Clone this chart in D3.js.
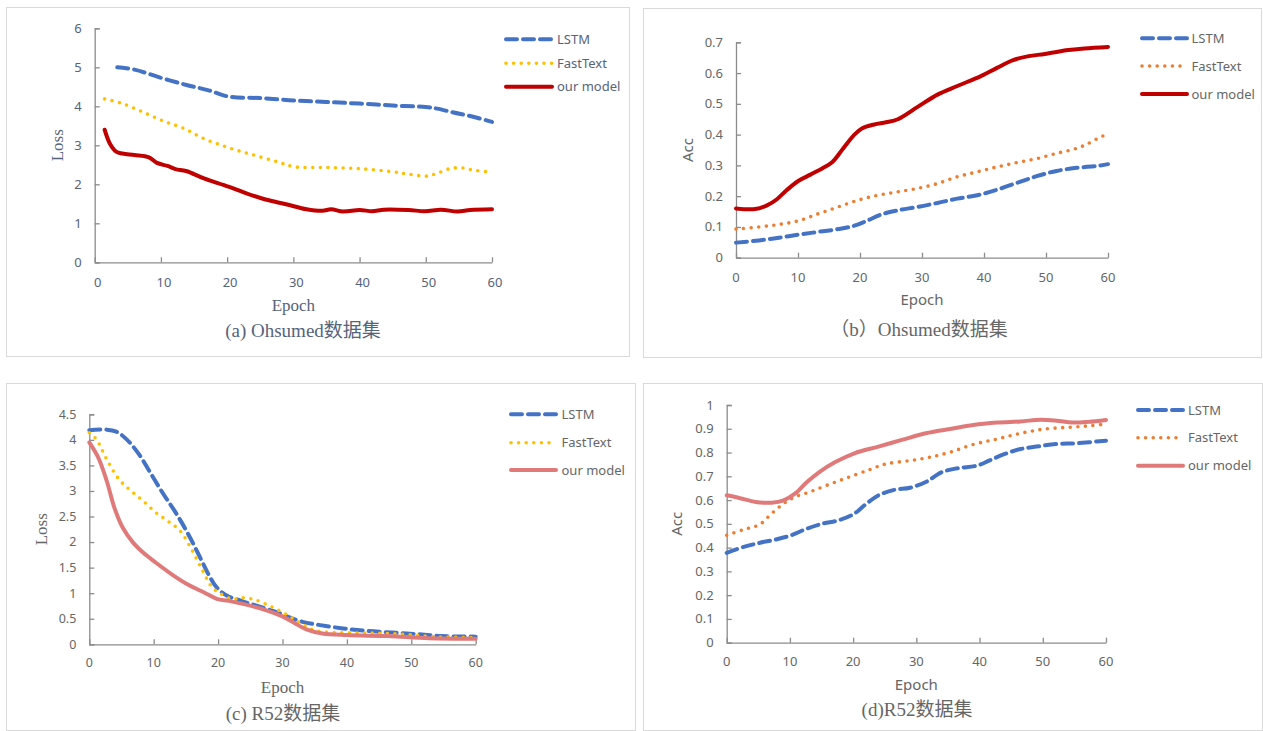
<!DOCTYPE html>
<html>
<head>
<meta charset="utf-8">
<script src="https://cdn.jsdelivr.net/npm/d3@7/dist/d3.min.js"></script>
<style>
  html, body { margin: 0; padding: 0; background: #fff; }
  svg { display: block; }
</style>
</head>
<body>
<svg id="chart" width="1263" height="731"></svg>
<script>
// ---- Data: training curves, [epoch, value] ----
const seriesNames = ["LSTM", "FastText", "our model"];

// (a) Ohsumed loss
const ohsLossLSTM = [[3.4,5.0],[6,4.94],[10,4.73],[14,4.54],[17.2,4.41],[20.2,4.25],[25.2,4.21],[30.1,4.15],[35,4.11],[40,4.07],[45,4.02],[50,3.98],[51.7,3.94],[54.2,3.84],[56.7,3.75],[60,3.6]];
const ohsLossFast = [[1.5,4.19],[4.2,4.07],[7.3,3.85],[10.4,3.62],[13.5,3.43],[16.5,3.17],[20.2,2.94],[24,2.75],[27.7,2.57],[30.1,2.45],[35,2.43],[40,2.40],[45,2.32],[47.4,2.26],[50.2,2.21],[51.7,2.28],[53.6,2.40],[55.4,2.42],[57.3,2.36],[60,2.31]];
const ohsLossOurs = [[1.5,3.40],[2.3,3.04],[3.3,2.83],[4.2,2.79],[6,2.75],[8.2,2.69],[9.4,2.55],[11,2.47],[12.2,2.39],[13.8,2.34],[16.5,2.15],[20.2,1.94],[22.7,1.78],[25.8,1.61],[28.9,1.49],[32,1.36],[34.4,1.32],[35.7,1.36],[37.5,1.30],[40,1.34],[41.9,1.31],[43.7,1.35],[47.4,1.34],[49.9,1.31],[52.3,1.35],[54.8,1.30],[56.7,1.34],[60,1.36]];

// (b) Ohsumed accuracy
const ohsAccLSTM = [[0,0.049],[3.7,0.056],[6.9,0.065],[10.1,0.075],[13.3,0.084],[16.5,0.093],[19.1,0.104],[21,0.119],[23.5,0.141],[26.1,0.154],[29.3,0.165],[32.5,0.178],[35.7,0.192],[38.9,0.203],[42.1,0.221],[45.3,0.243],[48.5,0.265],[51.7,0.282],[54.9,0.292],[58.1,0.298],[60,0.304]];
const ohsAccFast = [[0,0.093],[3.7,0.10],[6.9,0.108],[10.1,0.12],[13.3,0.143],[16.5,0.165],[19.7,0.187],[22.9,0.203],[26.1,0.214],[29.3,0.225],[32.5,0.241],[35.7,0.263],[38.9,0.279],[42.1,0.295],[45.3,0.309],[48.5,0.322],[51.7,0.339],[54.9,0.355],[56.8,0.371],[59.1,0.395],[60,0.40]];
const ohsAccOurs = [[0,0.16],[3.1,0.158],[5,0.17],[6.6,0.19],[8.2,0.22],[10.1,0.25],[12,0.27],[13.9,0.29],[15.5,0.31],[17.1,0.35],[19.1,0.40],[20.3,0.42],[22.3,0.433],[24.2,0.44],[26.1,0.45],[29.3,0.49],[32.5,0.53],[35.7,0.558],[39.5,0.59],[42.1,0.617],[44.7,0.642],[47.2,0.655],[49.8,0.662],[53.6,0.675],[56.2,0.68],[60,0.685]];

// (c) R52 loss
const r52LossLSTM = [[0,4.19],[2.7,4.20],[4.2,4.16],[5.8,4.01],[7.7,3.72],[9.6,3.33],[11.5,2.94],[13.4,2.58],[15.3,2.17],[17.2,1.70],[18.5,1.37],[19.8,1.11],[21.4,0.95],[23.6,0.85],[26.1,0.75],[29.3,0.62],[31.2,0.52],[33.1,0.44],[35.6,0.38],[39.4,0.31],[43.2,0.26],[47,0.23],[50.8,0.20],[54.6,0.16],[60,0.15]];
const r52LossFast = [[0,4.14],[1.1,4.01],[2.7,3.62],[4.6,3.23],[6.5,3.00],[8.4,2.80],[10.3,2.58],[12.2,2.41],[14.1,2.22],[16,1.83],[17.6,1.44],[19.1,1.11],[20.4,0.99],[22.3,0.88],[23.6,0.91],[25.5,0.88],[28,0.75],[30.5,0.59],[33.1,0.39],[35,0.27],[38.1,0.23],[43.2,0.22],[48.3,0.20],[53.4,0.15],[60,0.13]];
const r52LossOurs = [[0,3.95],[1.4,3.65],[2.7,3.20],[3.9,2.67],[5.2,2.28],[6.8,1.99],[8.4,1.79],[10.3,1.60],[12.8,1.37],[15.3,1.17],[17.9,1.01],[19.8,0.89],[21.7,0.85],[24.2,0.78],[27.4,0.67],[29.9,0.55],[31.8,0.42],[33.7,0.29],[36.2,0.21],[40,0.18],[46.4,0.16],[52.7,0.12],[60,0.11]];

// (d) R52 accuracy
const r52AccLSTM = [[0,0.378],[2.7,0.403],[5.2,0.42],[7.7,0.434],[10.2,0.452],[12.7,0.48],[15.2,0.501],[17.7,0.515],[20.2,0.543],[22.1,0.585],[24,0.62],[26.5,0.643],[29,0.652],[31.5,0.676],[34,0.717],[36.5,0.734],[39.6,0.745],[41.5,0.766],[44,0.794],[46.5,0.815],[49,0.825],[52.2,0.836],[55.3,0.839],[60,0.85]];
const r52AccFast = [[0,0.452],[2.7,0.476],[5.2,0.497],[7.1,0.543],[9,0.585],[10.8,0.613],[13.3,0.636],[16.5,0.669],[19.6,0.699],[22.7,0.729],[25.2,0.752],[29,0.766],[32.1,0.78],[35.3,0.801],[39,0.834],[42.8,0.857],[46.5,0.881],[50.3,0.899],[54,0.906],[57.2,0.912],[60,0.92]];
const r52AccOurs = [[0,0.62],[2.1,0.608],[4.6,0.592],[7.1,0.589],[9,0.599],[10.8,0.627],[12.7,0.676],[14.6,0.717],[17.1,0.759],[20.2,0.797],[24,0.825],[27.7,0.853],[31.5,0.881],[35.3,0.899],[39,0.916],[42.8,0.926],[46.5,0.931],[49.7,0.938],[52.2,0.934],[54.7,0.926],[57.2,0.929],[60,0.937]];

// Axis ticks
const epochTicks = [0, 10, 20, 30, 40, 50, 60];
const ohsLossTicks = [0, 1, 2, 3, 4, 5, 6];
const ohsAccTicks = [0, 0.1, 0.2, 0.3, 0.4, 0.5, 0.6, 0.7];
const r52LossTicks = [0, 0.5, 1, 1.5, 2, 2.5, 3, 3.5, 4, 4.5];
const r52AccTicks = [0, 0.1, 0.2, 0.3, 0.4, 0.5, 0.6, 0.7, 0.8, 0.9, 1];

// Captions and axis titles
const captions = ["(a) Ohsumed数据集", "（b）Ohsumed数据集", "(c) R52数据集", "(d)R52数据集"];
const yTitles = ["Loss", "Acc", "Loss", "Acc"];
const xTitle = "Epoch";

// ---- Drawing ----
const svg = d3.select("#chart");
const SANS = "'Noto Sans', 'Open Sans', sans-serif";
const SERIF = "'Liberation Serif', 'Noto Sans CJK SC', serif";

const BLUE = "#4472C4", GOLD = "#FFC000", ORANGE = "#ED7D31", DARKRED = "#C00000", PINK = "#E07A7A";

const panels = [
  { frame: [6, 7, 630, 357], x: [94.7, 492], y: [262.3, 28.3], yMax: 6, yTicks: ohsLossTicks,
    series: [ohsLossLSTM, ohsLossFast, ohsLossOurs], colors: [BLUE, GOLD, DARKRED],
    textColor: "#56637c", titleFont: SERIF, xTitleFont: SERIF, tickDx: 3, tickFs: 13,
    xLabelY: 282, xTitleY: 305, capY: 330, capX: 303, yTitleX: 57, capFs: 19,
    legend: { x0: 506, x1: 552, tx: 557, ys: [39.3, 63.3, 86.7] }, fmt: d3.format("d") },
  { frame: [643, 8, 1262, 358], x: [736, 1108], y: [257.7, 42.3], yMax: 0.7, yTicks: ohsAccTicks,
    series: [ohsAccLSTM, ohsAccFast, ohsAccOurs], colors: [BLUE, ORANGE, DARKRED],
    textColor: "#666666", titleFont: SANS, xTitleFont: SANS, tickDx: 0, tickFs: 13,
    xLabelY: 277, xTitleY: 300, capY: 329, capX: 919, yTitleX: 688, capFs: 19,
    legend: { x0: 1142, x1: 1187, tx: 1191.5, ys: [38.3, 66, 94] }, fmt: v => v === 0 ? "0" : d3.format(".1f")(v) },
  { frame: [6, 383, 636, 731], x: [89.3, 475.7], y: [644.3, 414.3], yMax: 4.5, yTicks: r52LossTicks,
    series: [r52LossLSTM, r52LossFast, r52LossOurs], colors: [BLUE, GOLD, PINK],
    textColor: "#666666", titleFont: SERIF, xTitleFont: SERIF, tickDx: 0, tickFs: 12.5,
    xLabelY: 663, xTitleY: 687, capY: 713, capX: 283, yTitleX: 41, capFs: 19,
    legend: { x0: 511, x1: 556, tx: 561.5, ys: [414.3, 442.7, 470] }, fmt: v => String(v) },
  { frame: [643, 383, 1263, 731], x: [726.7, 1106], y: [642.7, 405], yMax: 1, yTicks: r52AccTicks,
    series: [r52AccLSTM, r52AccFast, r52AccOurs], colors: [BLUE, ORANGE, PINK],
    textColor: "#666666", titleFont: SANS, xTitleFont: SANS, tickDx: 0, tickFs: 13,
    xLabelY: 661, xTitleY: 685, capY: 709, capX: 917, yTitleX: 677, capFs: 19,
    legend: { x0: 1138, x1: 1183, tx: 1188, ys: [410, 437.7, 465.7] }, fmt: v => String(v) }
];

// Line styles per series: dashed, dotted, solid
function styleLine(sel, idx, color) {
  sel.attr("fill", "none").attr("stroke", color);
  if (idx === 0) sel.attr("stroke-width", 4).attr("stroke-dasharray", "11,6").attr("stroke-linecap", "round");
  else if (idx === 1) sel.attr("stroke-width", 3.6).attr("stroke-dasharray", "0,7.6").attr("stroke-linecap", "round");
  else sel.attr("stroke-width", 4).attr("stroke-linecap", "round");
  return sel;
}

panels.forEach((p, i) => {
  const g = svg.append("g");
  const [fx0, fy0, fx1, fy1] = p.frame;
  g.append("rect").attr("x", fx0 + 0.5).attr("y", fy0 + 0.5)
    .attr("width", fx1 - fx0 - 1).attr("height", fy1 - fy0 - 1)
    .attr("fill", "#fff").attr("stroke", "#d9d9d9").attr("stroke-width", 1);

  const x = d3.scaleLinear().domain([0, 60]).range(p.x);
  const y = d3.scaleLinear().domain([0, p.yMax]).range(p.y);

  // y axis: ticks pointing into the plot
  const yAxis = g.append("g").attr("transform", `translate(${p.x[0]},0)`)
    .call(d3.axisRight(y).tickValues(p.yTicks).tickSize(5).tickFormat(""));
  yAxis.select(".domain").attr("stroke", "#8c8c8c").attr("stroke-width", 1.3);
  yAxis.selectAll(".tick line").attr("stroke", "#8c8c8c").attr("stroke-width", 1.3);
  g.selectAll(".ylab").data(p.yTicks).join("text")
    .attr("x", p.x[0] - 13).attr("y", d => y(d)).attr("dy", "0.35em")
    .attr("text-anchor", "end").attr("font-family", SANS).attr("font-size", p.tickFs)
    .attr("fill", p.textColor).text(p.fmt);

  // x axis: ticks pointing up
  const xAxis = g.append("g").attr("transform", `translate(0,${p.y[0]})`)
    .call(d3.axisTop(x).tickValues(epochTicks).tickSize(5).tickSizeOuter(0).tickFormat(""));
  xAxis.select(".domain").attr("stroke", "#8c8c8c").attr("stroke-width", 1.3);
  xAxis.selectAll(".tick line").attr("stroke", "#8c8c8c").attr("stroke-width", 1.3);
  g.selectAll(".xlab").data(epochTicks).join("text")
    .attr("x", d => x(d) + p.tickDx).attr("y", p.xLabelY).attr("dy", "0.35em")
    .attr("text-anchor", "middle").attr("font-family", SANS).attr("font-size", p.tickFs)
    .attr("fill", p.textColor).text(d => d);

  // axis titles
  const midY = (p.y[0] + p.y[1]) / 2;
  g.append("text").attr("transform", `translate(${p.yTitleX},${midY}) rotate(-90)`)
    .attr("text-anchor", "middle").attr("dy", "0.35em")
    .attr("font-family", p.titleFont).attr("font-size", p.titleFont === SERIF ? 17 : 15)
    .attr("fill", p.textColor).text(yTitles[i]);
  const midX = (p.x[0] + p.x[1]) / 2;
  g.append("text").attr("x", midX).attr("y", p.xTitleY).attr("dy", "0.35em")
    .attr("text-anchor", "middle").attr("font-family", p.xTitleFont)
    .attr("font-size", p.xTitleFont === SERIF ? 17 : 15)
    .attr("fill", p.textColor).text(xTitle);

  // caption
  g.append("text").attr("x", p.capX).attr("y", p.capY).attr("dy", "0.35em")
    .attr("text-anchor", "middle").attr("font-family", SERIF).attr("font-size", p.capFs)
    .attr("fill", p.textColor).text(captions[i]);

  // series
  const line = d3.line().x(d => x(d[0])).y(d => y(d[1])).curve(d3.curveCatmullRom.alpha(0.5));
  p.series.forEach((s, k) => {
    styleLine(g.append("path").attr("d", line(s)), k, p.colors[k]);
  });

  // legend
  seriesNames.forEach((name, k) => {
    const ly = p.legend.ys[k];
    styleLine(g.append("path").attr("d", `M${p.legend.x0},${ly}H${p.legend.x1}`), k, p.colors[k]);
    g.append("text").attr("x", p.legend.tx).attr("y", ly).attr("dy", "0.35em")
      .attr("font-family", SANS).attr("font-size", 13).attr("fill", p.textColor).text(name);
  });
});
</script>
</body>
</html>
